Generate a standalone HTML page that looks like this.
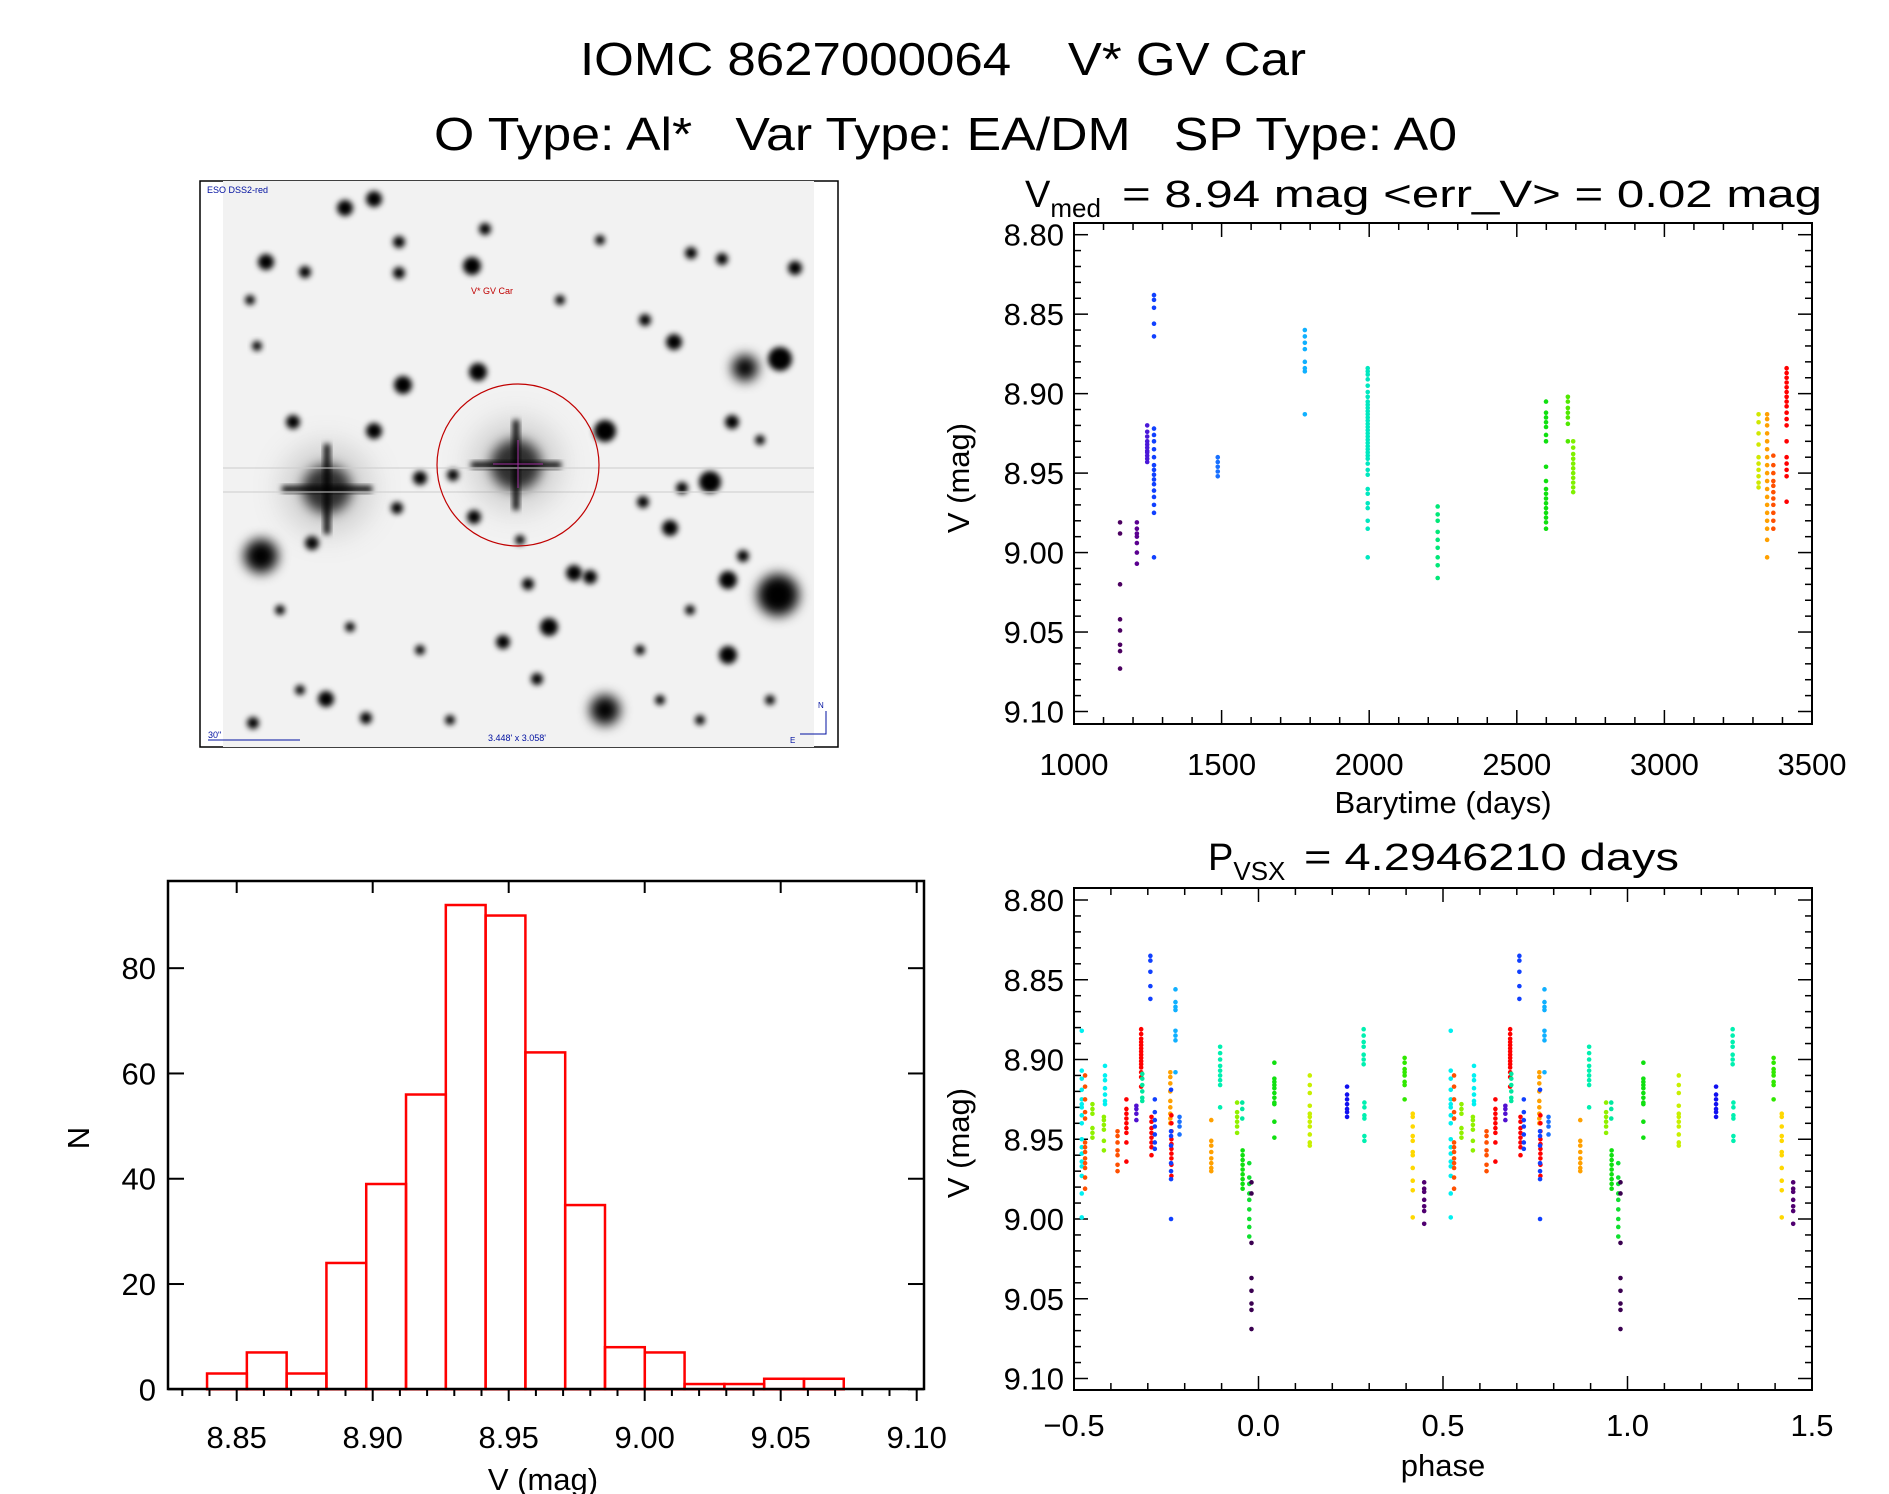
<!DOCTYPE html>
<html><head><meta charset="utf-8">
<style>
html,body{margin:0;padding:0;background:#fff;}
svg{display:block;font-family:"Liberation Sans",sans-serif;}
.pre{white-space:pre;}
</style></head>
<body>
<svg id="fig" width="1889" height="1494" viewBox="0 0 1889 1494" xmlns="http://www.w3.org/2000/svg">
<defs>
<filter id="blur3" x="-50%" y="-50%" width="200%" height="200%"><feGaussianBlur stdDeviation="3"/></filter>
<filter id="blur6" x="-50%" y="-50%" width="200%" height="200%"><feGaussianBlur stdDeviation="6"/></filter>
<filter id="blur15" x="-100%" y="-100%" width="300%" height="300%"><feGaussianBlur stdDeviation="15"/></filter>
<clipPath id="imgclip"><rect x="223" y="181" width="591" height="566"/></clipPath>
</defs>
<text class="pre" xml:space="preserve" x="580" y="75" font-size="46" textLength="726" lengthAdjust="spacingAndGlyphs">IOMC 8627000064    V* GV Car</text>
<text class="pre" xml:space="preserve" x="434" y="150" font-size="46" textLength="1023" lengthAdjust="spacingAndGlyphs">O Type: Al*   Var Type: EA/DM   SP Type: A0</text>

<g id="sky"></g>
<g id="lc"></g>
<g id="hist"></g>
<g id="ph"></g>
</svg>
<script>
// ---------- light curve data ----------
const lcTimes=[1156,1213,1248,1271,1487,1782,1995,2232,2599,2673,2691,3319,3348,3369,3414];
const lcColors=['#4b0060','#5a0090','#4a18d8','#1040ff','#1870ff','#10b0ff','#00e8c0','#00e878','#10e010','#50e800','#80f000','#d0e800','#ffa000','#ff5000','#ff0000'];
const lcMags=[
[8.981,8.988,9.020,9.042,9.049,9.058,9.062,9.073],
[8.981,8.985,8.988,8.990,8.994,9.000,9.007],
[8.920,8.924,8.927,8.930,8.932,8.934,8.936,8.937,8.939,8.941,8.943],
[8.838,8.841,8.846,8.856,8.864,8.922,8.926,8.930,8.935,8.940,8.945,8.948,8.951,8.954,8.957,8.961,8.965,8.970,8.975,9.003],
[8.940,8.943,8.946,8.949,8.952],
[8.860,8.864,8.868,8.872,8.880,8.884,8.886,8.913],
[8.884,8.886,8.888,8.891,8.895,8.899,8.902,8.905,8.907,8.909,8.911,8.913,8.915,8.917,8.919,8.921,8.923,8.925,8.927,8.929,8.931,8.933,8.935,8.937,8.939,8.941,8.944,8.948,8.951,8.960,8.963,8.969,8.972,8.980,8.985,9.003],
[8.971,8.976,8.980,8.987,8.992,8.997,9.003,9.008,9.016],
[8.905,8.912,8.915,8.918,8.921,8.926,8.930,8.946,8.955,8.960,8.963,8.966,8.969,8.972,8.975,8.978,8.981,8.985],
[8.902,8.905,8.909,8.912,8.915,8.919,8.930],
[8.930,8.934,8.938,8.941,8.944,8.947,8.950,8.953,8.956,8.959,8.962],
[8.913,8.918,8.925,8.932,8.940,8.944,8.948,8.952,8.956,8.959],
[8.913,8.916,8.920,8.925,8.930,8.935,8.940,8.945,8.950,8.955,8.960,8.965,8.970,8.975,8.980,8.985,8.992,9.003],
[8.939,8.945,8.950,8.955,8.958,8.962,8.966,8.970,8.975,8.980,8.985],
[8.884,8.887,8.890,8.893,8.896,8.899,8.902,8.905,8.908,8.912,8.916,8.920,8.930,8.940,8.944,8.948,8.952,8.968]
];
const lcXTicks=[1000,1500,2000,2500,3000,3500];
const magTicks=[8.80,8.85,8.90,8.95,9.00,9.05,9.10];

// ---------- phase data ----------
const phPhases=[-0.479,-0.470,-0.450,-0.416,-0.419,-0.382,-0.358,-0.331,-0.318,-0.315,-0.293,-0.290,-0.281,-0.239,-0.236,-0.237,-0.225,-0.214,-0.128,-0.104,-0.058,-0.043,-0.044,-0.025,-0.019,0.043,0.139,0.240,0.285,0.287,0.396,0.418,0.449];
const phColors=['#00f0f0','#ff5000','#90f000','#00f0f0','#90f000','#ff5000','#ff0000','#5010d0','#ff0000','#00e8a0','#1040ff','#ff0000','#1040ff','#ffa000','#ff0000','#1040ff','#10b0ff','#1870ff','#ffa000','#00f0b0','#90f000','#10e010','#00e8a0','#10e030','#3a0050','#10e010','#c8f000','#1010f0','#00f0b0','#00f0b0','#30e800','#ffd800','#500070'];
const phMags=[
[8.882,8.907,8.912,8.919,8.925,8.928,8.930,8.935,8.940,8.950,8.955,8.959,8.964,8.967,8.973,8.984,8.999],
[8.910,8.917,8.925,8.933,8.937,8.952,8.955,8.958,8.962,8.965,8.968,8.974,8.981],
[8.928,8.931,8.934,8.943,8.946,8.949],
[8.904,8.910,8.913,8.918,8.922,8.926,8.928],
[8.936,8.938,8.941,8.944,8.951,8.957],
[8.945,8.948,8.952,8.957,8.960,8.966,8.970],
[8.925,8.931,8.934,8.937,8.940,8.943,8.946,8.952,8.964],
[8.929,8.931,8.934,8.938],
[8.881,8.884,8.887,8.889,8.891,8.893,8.895,8.897,8.899,8.901,8.903,8.905,8.908,8.911,8.917],
[8.909,8.912,8.916,8.920,8.924,8.926],
[8.835,8.838,8.845,8.854,8.862],
[8.936,8.939,8.943,8.946,8.949,8.952,8.955,8.960],
[8.925,8.933,8.938,8.942,8.947,8.952,8.956],
[8.908,8.911,8.915,8.920,8.926,8.930,8.934,8.937,8.940],
[8.935,8.940,8.945,8.950,8.953,8.956,8.959,8.962,8.966,8.973],
[8.919,8.945,8.948,8.954,8.965,8.970,8.975,9.000],
[8.856,8.864,8.867,8.869,8.882,8.885,8.888,8.908],
[8.936,8.939,8.942,8.947],
[8.938,8.951,8.954,8.958,8.962,8.965,8.968,8.970],
[8.892,8.896,8.900,8.904,8.907,8.910,8.913,8.916,8.930],
[8.927,8.933,8.936,8.939,8.942,8.946],
[8.957,8.960,8.963,8.966,8.969,8.972,8.975,8.978,8.981],
[8.927,8.931,8.937],
[8.965,8.974,8.978,8.984,8.988,8.994,9.000,9.005,9.011],
[8.977,8.984,9.015,9.037,9.045,9.053,9.057,9.069],
[8.902,8.912,8.914,8.916,8.918,8.921,8.924,8.927,8.928,8.939,8.949],
[8.910,8.916,8.921,8.929,8.934,8.936,8.939,8.942,8.947,8.952,8.954],
[8.917,8.922,8.925,8.928,8.931,8.933,8.936],
[8.881,8.885,8.889,8.892,8.897,8.900,8.903],
[8.927,8.930,8.935,8.937,8.948,8.951],
[8.899,8.902,8.906,8.908,8.910,8.914,8.916,8.925],
[8.934,8.936,8.942,8.948,8.951,8.958,8.960,8.968,8.976,8.982,8.999],
[8.977,8.981,8.983,8.988,8.992,8.995,9.003]
];
const phXTicks=[-0.5,0.0,0.5,1.0,1.5];

// ---------- histogram data ----------
const histStart=8.8391;
const histBinWidth=0.01463;
const histCounts=[3,7,3,24,39,56,92,90,64,35,8,7,1,1,2,2];
const histXTicks=[8.85,8.90,8.95,9.00,9.05,9.10];
const histYTicks=[0,20,40,60,80];

const NS='http://www.w3.org/2000/svg';
function mk(parent,tag,attrs,text){
  const e=document.createElementNS(NS,tag);
  for(const k in attrs)e.setAttribute(k,attrs[k]);
  if(text!==undefined)e.textContent=text;
  parent.appendChild(e);return e;
}
function line(g,x1,y1,x2,y2,w){return mk(g,'line',{x1:x1,y1:y1,x2:x2,y2:y2,stroke:'#000','stroke-width':w||2});}

// ---------- light curve ----------
(function(){
  const g=document.getElementById('lc');
  const L=1074,R=1812,T=223,B=724;
  const xs=t=>L+(t-1000)*(R-L)/2500;
  const ys=m=>234.7+(m-8.80)*(711.5-234.7)/0.3;
  const frame=mk(g,'rect',{x:L,y:T,width:R-L,height:B-T,fill:'none',stroke:'#000','stroke-width':2});
  
  
  for(let t=1000;t<=3500;t+=100){
    const major=(t%500===0);const len=major?14:7;
    line(g,xs(t),B,xs(t),B-len,1.5);line(g,xs(t),T,xs(t),T+len,1.5);
  }
  for(let i=0;i<=30;i++){
    const m=8.80+i*0.01;const major=(i%5===0);const len=major?14:7;
    line(g,L,ys(m),L+len,ys(m),1.5);line(g,R,ys(m),R-len,ys(m),1.5);
  }
  lcXTicks.forEach(t=>{
    const tx=mk(g,'text',{x:xs(t),y:775,'font-size':31,'text-anchor':'middle'},String(t));
    
    
  });
  magTicks.forEach(m=>{
    const tx=mk(g,'text',{x:1064,y:ys(m)+11,'font-size':31,'text-anchor':'end'},m.toFixed(2));
    
    
  });
  const xl=mk(g,'text',{x:1443,y:813,'font-size':31,'text-anchor':'middle'},'Barytime (days)');
  
  
  const yl=mk(g,'text',{x:0,y:0,'font-size':31,'text-anchor':'middle',transform:'translate(969,478) rotate(-90)'},'V (mag)');
  
  
  const tt=mk(g,'text',{x:1025,y:207,'font-size':38});
  
  
  mk(tt,'tspan',{},'V');
  mk(tt,'tspan',{dy:10,'font-size':26},'med');
  mk(tt,'tspan',{dy:-10,x:1122,textLength:700,lengthAdjust:'spacingAndGlyphs'},'= 8.94 mag <err_V> = 0.02 mag');
  lcTimes.forEach((t,i)=>{
    lcMags[i].forEach(m=>{
      const c=mk(g,'circle',{cx:xs(t),cy:ys(m),r:2.3,fill:lcColors[i]});
      
      
    });
  });
})();

// ---------- phase plot ----------
(function(){
  const g=document.getElementById('ph');
  const L=1074,R=1812,T=888,B=1390;
  const xs=p=>L+(p+0.5)*(R-L)/2;
  const ys=m=>900+(m-8.80)*(1378.5-900)/0.3;
  const frame=mk(g,'rect',{x:L,y:T,width:R-L,height:B-T,fill:'none',stroke:'#000','stroke-width':2});
  
  
  for(let i=0;i<=20;i++){
    const p=-0.5+i*0.1;const major=(i%5===0);const len=major?14:7;
    line(g,xs(p),B,xs(p),B-len,1.5);line(g,xs(p),T,xs(p),T+len,1.5);
  }
  for(let i=0;i<=30;i++){
    const m=8.80+i*0.01;const major=(i%5===0);const len=major?14:7;
    line(g,L,ys(m),L+len,ys(m),1.5);line(g,R,ys(m),R-len,ys(m),1.5);
  }
  phXTicks.forEach(p=>{
    const lbl=p<0?'\u2212'+Math.abs(p).toFixed(1):p.toFixed(1);
    const tx=mk(g,'text',{x:xs(p),y:1436,'font-size':31,'text-anchor':'middle'},lbl);
    
    
  });
  magTicks.forEach(m=>{
    const tx=mk(g,'text',{x:1064,y:ys(m)+11,'font-size':31,'text-anchor':'end'},m.toFixed(2));
    
    
  });
  const xl=mk(g,'text',{x:1443,y:1476,'font-size':31,'text-anchor':'middle'},'phase');
  
  
  const yl=mk(g,'text',{x:0,y:0,'font-size':31,'text-anchor':'middle',transform:'translate(969,1143) rotate(-90)'},'V (mag)');
  
  
  const tt=mk(g,'text',{x:1208,y:870,'font-size':38});
  
  
  mk(tt,'tspan',{},'P');
  mk(tt,'tspan',{dy:10,'font-size':26},'VSX');
  mk(tt,'tspan',{dy:-10,x:1304,textLength:375,lengthAdjust:'spacingAndGlyphs'},'= 4.2946210 days');
  phPhases.forEach((p,i)=>{
    [p,p+1].forEach(pp=>{
      if(pp<-0.5||pp>1.5)return;
      phMags[i].forEach(m=>{
        const c=mk(g,'circle',{cx:xs(pp),cy:ys(m),r:2.3,fill:phColors[i]});
        
        
      });
    });
  });
})();

// ---------- histogram ----------
(function(){
  const g=document.getElementById('hist');
  const L=168,R=924,T=881,B=1389;
  const xs=m=>236.7+(m-8.85)*2720;
  const ys=n=>1389.3-n*5.264;
  histCounts.forEach((n,i)=>{
    const x0=xs(histStart+i*histBinWidth),x1=xs(histStart+(i+1)*histBinWidth);
    const r=mk(g,'rect',{x:x0,y:ys(n),width:x1-x0,height:ys(0)-ys(n),fill:'none',stroke:'#f00','stroke-width':2.5});
    
    
  });
  const frame=mk(g,'path',{d:`M${L},${T} L${R},${T} L${R},${B} L${L},${B} Z`,fill:'none',stroke:'#000','stroke-width':2.5});
  
  
  for(let i=-2;i<=25;i++){
    const m=8.85+i*0.01;const x=xs(m);if(x<L||x>R+1)continue;
    const major=(i%5===0);
    line(g,x,B,x,B+(major?12:7),2);
    if(major)line(g,x,T,x,T+12,2);
  }
  histYTicks.forEach(n=>{
    line(g,L,ys(n),L+16,ys(n),2);line(g,R,ys(n),R-16,ys(n),2);
    const tx=mk(g,'text',{x:156,y:ys(n)+11,'font-size':31,'text-anchor':'end'},String(n));
    
    
  });
  histXTicks.forEach(m=>{
    const tx=mk(g,'text',{x:xs(m),y:1448,'font-size':31,'text-anchor':'middle'},m.toFixed(2));
    
    
  });
  const xl=mk(g,'text',{x:543,y:1490,'font-size':31,'text-anchor':'middle'},'V (mag)');
  
  
  const yl=mk(g,'text',{x:0,y:0,'font-size':31,'text-anchor':'middle',transform:'translate(89,1138) rotate(-90)'},'N');
  
  
})();

// ---------- sky image ----------
(function(){
  const g=document.getElementById('sky');
  const fr=mk(g,'rect',{x:200,y:181,width:638,height:566,fill:'#fff',stroke:'#000','stroke-width':1.5});
  
  
  const ig=mk(g,'g',{'clip-path':'url(#imgclip)'});
  mk(ig,'rect',{x:223,y:181,width:591,height:566,fill:'#f2f2f2'});
  const stars=[[327,489,24],[516,465,25],[261,556,17],[778,595,21],[605,710,15],[745,368,13],[780,359,12],[605,431,11],[710,482,11],[478,372,9],[403,385,9],[472,266,9],[549,627,9],[728,655,9],[728,580,9],[674,342,8],[670,528,8],[374,431,8],[293,422,7],[266,262,8],[345,208,8],[374,199,8],[795,268,7],[732,422,7],[326,699,8],[574,573,8],[590,577,7],[643,502,6],[474,517,7],[399,273,6],[399,242,6],[485,229,6],[722,259,6],[691,253,6],[305,272,6],[420,478,7],[312,543,7],[503,642,7],[537,679,6],[366,718,6],[253,723,6],[743,556,6],[528,584,6],[645,320,6],[257,346,5],[397,508,6],[682,488,6],[453,475,6],[350,627,5],[300,690,5],[420,650,5],[640,650,5],[660,700,5],[700,720,5],[770,700,5],[760,440,5],[560,300,5],[600,240,5],[250,300,5],[280,610,5],[450,720,5],[520,540,5],[690,610,5]];
  stars.forEach(s=>{
    const c=mk(ig,'circle',{cx:s[0],cy:s[1],r:s[2],fill:'#000',filter:s[2]>12?'url(#blur6)':'url(#blur3)'});
    
    
  });
  [[327,489],[516,465]].forEach(p=>{
    mk(ig,'circle',{cx:p[0],cy:p[1],r:45,fill:'#888',opacity:0.35,filter:'url(#blur15)'});
    mk(ig,'rect',{x:p[0]-45,y:p[1]-3,width:90,height:6,fill:'#000',filter:'url(#blur3)'});
    mk(ig,'rect',{x:p[0]-3,y:p[1]-45,width:6,height:90,fill:'#000',filter:'url(#blur3)'});
    mk(ig,'line',{x1:223,y1:p[1]+3,x2:814,y2:p[1]+3,stroke:'#ccc','stroke-width':1});
  });
  const circ=mk(g,'ellipse',{cx:518,cy:465,rx:81,ry:81,fill:'none',stroke:'#c00000','stroke-width':1.2});
  
  
  mk(g,'line',{x1:493,y1:464,x2:543,y2:464,stroke:'#a030a0','stroke-width':1});
  mk(g,'line',{x1:518,y1:440,x2:518,y2:488,stroke:'#a030a0','stroke-width':1});
  const t1=mk(g,'text',{x:207,y:193,'font-size':9,fill:'#0010a0'},'ESO DSS2-red');
  
  
  const t2=mk(g,'text',{x:471,y:294,'font-size':9,fill:'#c00000'},'V* GV Car');
  
  
  const t3=mk(g,'text',{x:208,y:738,'font-size':9,fill:'#0010a0'},'30"');
  
  
  mk(g,'line',{x1:208,y1:740,x2:300,y2:740,stroke:'#0010a0','stroke-width':1});
  const t4=mk(g,'text',{x:488,y:741,'font-size':9,fill:'#0010a0'},"3.448' x 3.058'");
  
  
  mk(g,'path',{d:'M826,711 L826,734 L800,734',fill:'none',stroke:'#0010a0','stroke-width':1});
  mk(g,'text',{x:818,y:708,'font-size':8,fill:'#0010a0'},'N');
  mk(g,'text',{x:790,y:743,'font-size':8,fill:'#0010a0'},'E');
})();
</script>
</body></html>
